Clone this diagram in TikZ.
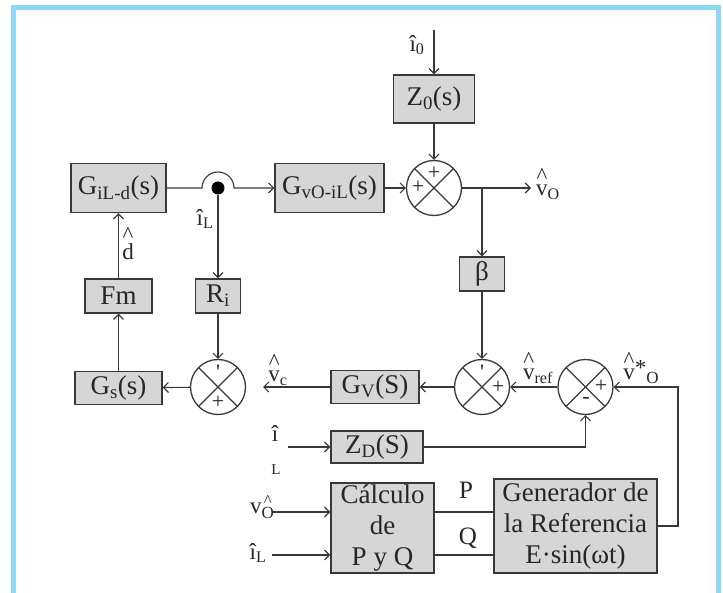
\documentclass[tikz,border=0pt]{standalone}
\usepackage{fontspec}
\setmainfont{Liberation Serif}
\usetikzlibrary{arrows.meta,calc}
\definecolor{frameblue}{HTML}{8ED8F7}
\definecolor{boxfill}{HTML}{D6D6D6}
\definecolor{ink}{HTML}{383838}
\newcommand\hatv[1]{\leavevmode\vbox{\offinterlineskip\halign{\hfil##\hfil\cr\textasciicircum\cr\noalign{\kern1pt}#1\cr}}}
\tikzset{
  blk/.style={draw=ink, fill=boxfill, line width=1.4pt, inner sep=0pt, text=black!85,
    font=\fontsize{27}{31}\selectfont},
  sig/.style={font=\fontsize{23}{27}\selectfont, inner sep=0pt, text=black!85},
  sgn/.style={font=\fontsize{22}{24}\selectfont, inner sep=0pt, text=black!85},
  conn/.style={draw=ink, line width=1.1pt},
  arr/.style={conn, -{Straight Barb[length=5pt,width=10pt]}},
  sum/.style={circle, draw=ink, line width=1.3pt, minimum size=55pt, inner sep=0pt,
    path picture={\draw[ink, line width=1.1pt]
      (path picture bounding box.north east) -- (path picture bounding box.south west)
      (path picture bounding box.north west) -- (path picture bounding box.south east);}}
}
\begin{document}
\begin{tikzpicture}[x=1pt,y=-1pt]
\useasboundingbox (0,0) rectangle (723,593);
% frame
\fill[frameblue] (11,5) rectangle (721,10);
\fill[frameblue] (11,5) rectangle (16,593);
\fill[frameblue] (716,5) rectangle (721,593);

% blocks
\node[blk, minimum width=81, minimum height=48] (Z0) at (434,99) {Z\textsubscript{0}(s)};
\node[blk, minimum width=95, minimum height=49] (GiL) at (118.5,188) {G\textsubscript{iL-d}(s)};
\node[blk, minimum width=109, minimum height=49] (GvO) at (329.5,188) {G\textsubscript{vO-iL}(s)};
\node[blk, minimum width=45, minimum height=34] (beta) at (482,274) {β};
\node[blk, minimum width=67, minimum height=34] (Fm) at (118.5,296) {Fm};
\node[blk, minimum width=45, minimum height=34] (Ri) at (218,296) {R\textsubscript{i}};
\node[blk, minimum width=87, minimum height=33] (Gs) at (118.5,388) {G\textsubscript{s}(s)};
\node[blk, minimum width=88, minimum height=33] (Gv) at (375,387) {G\textsubscript{V}(S)};
\node[blk, minimum width=92, minimum height=32] (ZD) at (377,447) {Z\textsubscript{D}(S)};
\node[blk, minimum width=103, minimum height=90, align=center] (Calc) at (382.5,528) {Cálculo\\de\\P y Q};
\node[blk, minimum width=163, minimum height=94, align=center] (Gen) at (575.5,526) {Generador de\\la Referencia\\E·sin(ωt)};

% summing junctions
\node[sum] (S1) at (434,188) {};
\node[sum] (SL) at (218,387) {};
\node[sum] (SM) at (482,387) {};
\node[sum] (SR) at (585.5,387) {};

% signs
\node[sgn] (s1t) at (434,173) {+};
\node[sgn] (s1l) at (418,187) {+};
\node[sgn] (slt) at (218,372) {\textquotesingle};
\node[sgn] (slb) at (218,402) {+};
\node[sgn] (smt) at (482,372) {\textquotesingle};
\node[sgn] (smr) at (498,387) {+};
\node[sgn] (srr) at (601,386) {+};
\node[sgn] (srb) at (586,400) {-};

% coordinates
\coordinate (i0in) at (434,30);
\coordinate (vOout) at (531,188);
\coordinate (brV) at (482,188);
\coordinate (hopL) at (202,188);
\coordinate (vcend) at (263,387);
\coordinate (fbR) at (678,387);
\coordinate (iLin) at (288,447);
\coordinate (vOin) at (273,512);
\coordinate (iLin2) at (272,555);

% connectors
\draw[arr] (i0in) -- (Z0);
\draw[arr] (Z0) -- (S1);
\draw[arr] (GvO) -- (S1);
\draw[arr] (S1) -- (vOout);
\draw[arr] (brV) -- (beta);
\draw[arr] (beta) -- (SM);
\draw[arr] (GiL) -- (hopL) arc[start angle=180, end angle=360, radius=16] -- (GvO);
\node[circle, fill=black, inner sep=0pt, minimum size=13pt] (J1) at (218,188) {};
\draw[arr] (J1) -- (Ri);
\draw[arr] (Ri) -- (SL);
\draw[arr] (SL) -- (Gs);
\draw[arr] (Gs) -- (Fm);
\draw[arr] (Fm) -- (GiL);
\draw[arr] (Gv) -- (vcend);
\draw[arr] (SM) -- (Gv);
\draw[arr] (SR) -- (SM);
\draw[arr] (Gen.east) -| (fbR) -- (SR.east);
\draw[arr] (ZD.east) -| (SR.south);
\draw[arr] (iLin) -- (ZD);
\draw[arr] (vOin) -- (vOin -| Calc.west);
\draw[arr] (iLin2) -- (iLin2 -| Calc.west);
\draw[conn] (vOin -| Calc.east) -- (vOin -| Gen.west);
\draw[conn] (iLin2 -| Calc.east) -- (iLin2 -| Gen.west);

% signal labels
\node[sig] (li0) at (417,45) {î\textsubscript{0}};
\node[sig] (liL) at (205,219) {î\textsubscript{L}};
\node[sig] (ld) at (128,244) {\hatv{d}};
\node[sig, anchor=west] (lvO) at (536,184) {\hatv{v}\textsubscript{O}};
\node[sig] (lvc) at (278,370) {\hatv{v}\textsubscript{c}};
\node[sig] (lvref) at (538,368) {\hatv{v}\textsubscript{ref}};
\node[sig] (lvs) at (641,368) {\hatv{v}\raisebox{4pt}{*}\raisebox{-4pt}{\fontsize{17}{17}\selectfont O}};
\node[sig] (li) at (275,433) {î};
\node[sig, font=\fontsize{15}{17}\selectfont] (lL) at (276,470) {L};
\node[sig] (lvOin) at (262,507) {v\raisebox{-5pt}{\fontsize{17}{17}\selectfont\hatv{O}}};
\node[sig] (liLin) at (258,553) {î\textsubscript{L}};
\node[sig, font=\fontsize{25}{27}\selectfont] (lP) at (466,490) {P};
\node[sig, font=\fontsize{25}{27}\selectfont] (lQ) at (468,538) {Q};
\end{tikzpicture}
\end{document}
